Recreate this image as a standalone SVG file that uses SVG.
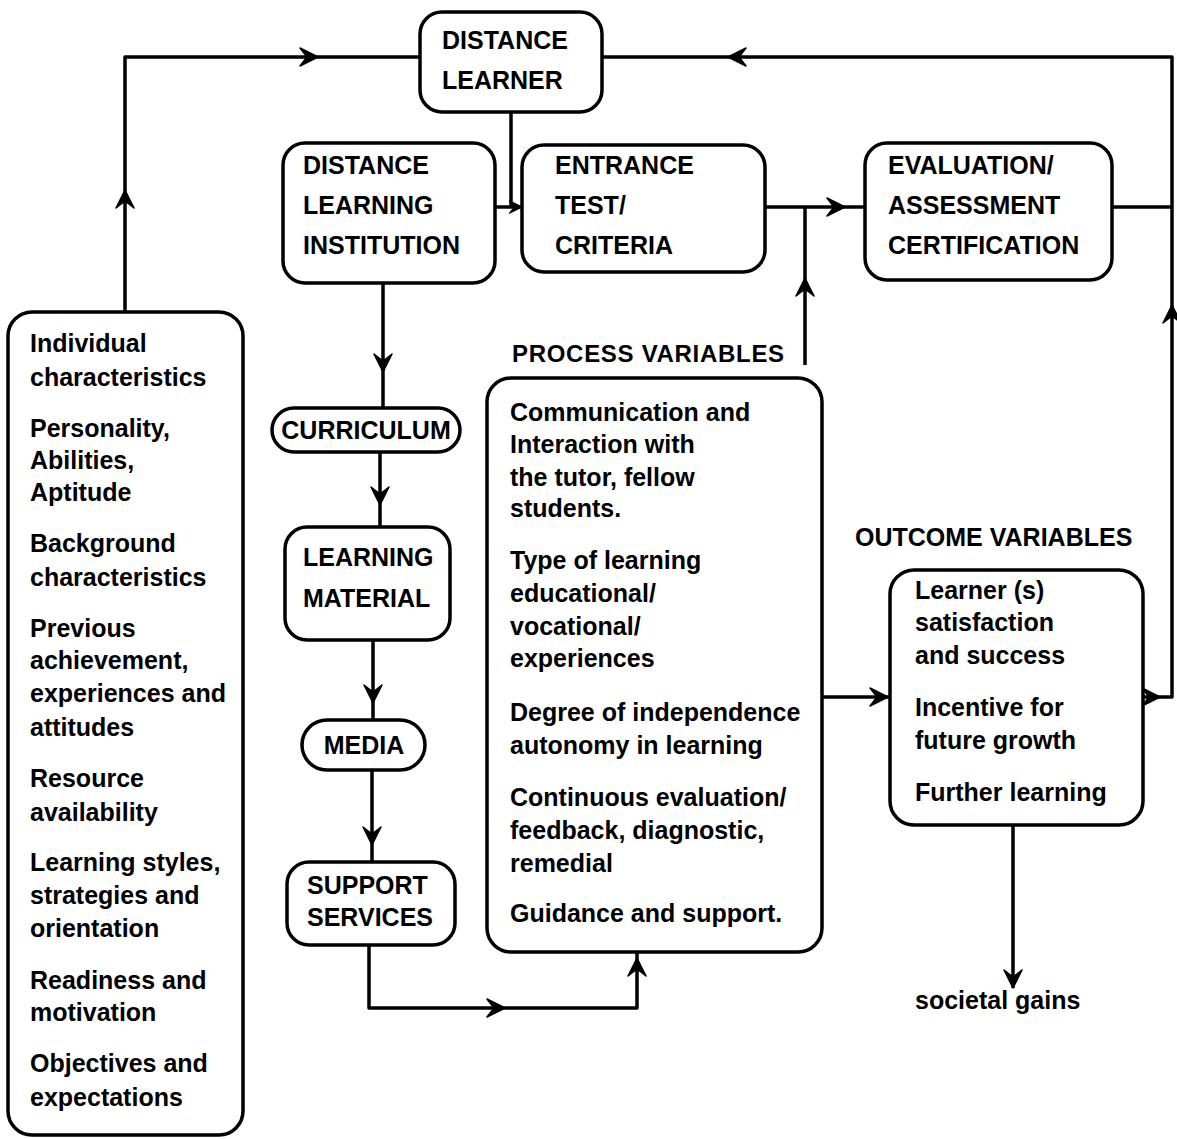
<svg xmlns="http://www.w3.org/2000/svg" xmlns:xlink="http://www.w3.org/1999/xlink" width="1177" height="1139" viewBox="0 0 1177 1139">
<style>
  .box { fill: #fff; stroke: #000; stroke-width: 3.5; }
  .ln { fill: none; stroke: #000; stroke-width: 3.5; stroke-linejoin: round; }
  text { font-family: "Liberation Sans", Arial, sans-serif; font-weight: bold; font-size: 25px; fill: #000; }
  .lbl { font-size: 24px; letter-spacing: 0.7px; }
</style>
<defs>
  <path id="ah" d="M0,0 L-18,-9 L-11,0 L-18,9 Z" fill="#000" stroke="#000" stroke-width="1.5" stroke-linejoin="round"/>
</defs>
<rect width="1177" height="1139" fill="#fff"/>

<g id="connectors">
  <path class="ln" d="M125,312 V57 H420"/>
  <use xlink:href="#ah" transform="translate(125,190) rotate(-90)"/>
  <use xlink:href="#ah" transform="translate(318,57)"/>
  <path class="ln" d="M1143,697 H1172 V57 H602"/>
  <use xlink:href="#ah" transform="translate(1160,697)"/>
  <use xlink:href="#ah" transform="translate(1172,305) rotate(-90)"/>
  <use xlink:href="#ah" transform="translate(728,57) rotate(180)"/>
  <path class="ln" d="M1112,207 H1172"/>
  <path class="ln" d="M511,112 V207"/>
  <path class="ln" d="M495,207 H522"/>
  <use xlink:href="#ah" transform="translate(522,207) scale(0.7)"/>
  <path class="ln" d="M765,207 H865"/>
  <use xlink:href="#ah" transform="translate(845,207)"/>
  <path class="ln" d="M805,365 V207"/>
  <use xlink:href="#ah" transform="translate(805,278) rotate(-90)"/>
  <path class="ln" d="M383,283 V408"/>
  <use xlink:href="#ah" transform="translate(383,372) rotate(90)"/>
  <path class="ln" d="M380,452 V527"/>
  <use xlink:href="#ah" transform="translate(380,505) rotate(90)"/>
  <path class="ln" d="M373,640 V720"/>
  <use xlink:href="#ah" transform="translate(373,703) rotate(90)"/>
  <path class="ln" d="M372,770 V862"/>
  <use xlink:href="#ah" transform="translate(372,845) rotate(90)"/>
  <path class="ln" d="M369,945 V1008 H637 V952"/>
  <use xlink:href="#ah" transform="translate(505,1008)"/>
  <use xlink:href="#ah" transform="translate(637,958) rotate(-90)"/>
  <path class="ln" d="M822,697 H890"/>
  <use xlink:href="#ah" transform="translate(888,697)"/>
  <path class="ln" d="M1013,825 V988"/>
  <use xlink:href="#ah" transform="translate(1013,988) rotate(90)"/>
</g>

<g id="distance-learner">
  <rect class="box" x="420" y="12" width="182" height="100" rx="22"/>
  <text x="442" y="49">DISTANCE</text>
  <text x="442" y="89">LEARNER</text>
</g>

<g id="distance-learning-institution">
  <rect class="box" x="283" y="143" width="212" height="140" rx="22"/>
  <text x="303" y="174">DISTANCE</text>
  <text x="303" y="214">LEARNING</text>
  <text x="303" y="254">INSTITUTION</text>
</g>

<g id="entrance-test">
  <rect class="box" x="522" y="145" width="243" height="127" rx="22"/>
  <text x="555" y="174">ENTRANCE</text>
  <text x="555" y="214">TEST/</text>
  <text x="555" y="254">CRITERIA</text>
</g>

<g id="evaluation">
  <rect class="box" x="865" y="143" width="247" height="137" rx="22"/>
  <text x="888" y="174">EVALUATION/</text>
  <text x="888" y="214">ASSESSMENT</text>
  <text x="888" y="254">CERTIFICATION</text>
</g>

<g id="individual-characteristics">
  <rect class="box" x="8" y="312" width="235" height="823" rx="24"/>
  <text x="30" y="352">Individual</text>
  <text x="30" y="386">characteristics</text>
  <text x="30" y="437">Personality,</text>
  <text x="30" y="469">Abilities,</text>
  <text x="30" y="501">Aptitude</text>
  <text x="30" y="552">Background</text>
  <text x="30" y="586">characteristics</text>
  <text x="30" y="637">Previous</text>
  <text x="30" y="669">achievement,</text>
  <text x="30" y="702">experiences and</text>
  <text x="30" y="736">attitudes</text>
  <text x="30" y="787">Resource</text>
  <text x="30" y="821">availability</text>
  <text x="30" y="871">Learning styles,</text>
  <text x="30" y="904">strategies and</text>
  <text x="30" y="937">orientation</text>
  <text x="30" y="989">Readiness and</text>
  <text x="30" y="1021">motivation</text>
  <text x="30" y="1072">Objectives and</text>
  <text x="30" y="1106">expectations</text>
</g>

<g id="curriculum">
  <rect class="box" x="272" y="408" width="188" height="44" rx="22"/>
  <text x="366" y="439" text-anchor="middle">CURRICULUM</text>
</g>

<g id="learning-material">
  <rect class="box" x="285" y="527" width="165" height="113" rx="22"/>
  <text x="303" y="566">LEARNING</text>
  <text x="303" y="607">MATERIAL</text>
</g>

<g id="media">
  <rect class="box" x="302" y="720" width="123" height="50" rx="25"/>
  <text x="364" y="754" text-anchor="middle">MEDIA</text>
</g>

<g id="support-services">
  <rect class="box" x="287" y="862" width="168" height="83" rx="22"/>
  <text x="307" y="894">SUPPORT</text>
  <text x="307" y="926">SERVICES</text>
</g>

<g id="process-variables">
  <text class="lbl" x="512" y="362">PROCESS VARIABLES</text>
  <rect class="box" x="487" y="378" width="335" height="574" rx="24"/>
  <text x="510" y="421">Communication and</text>
  <text x="510" y="453">Interaction with</text>
  <text x="510" y="486">the tutor, fellow</text>
  <text x="510" y="517">students.</text>
  <text x="510" y="569">Type of learning</text>
  <text x="510" y="602">educational/</text>
  <text x="510" y="635">vocational/</text>
  <text x="510" y="667">experiences</text>
  <text x="510" y="721">Degree of independence</text>
  <text x="510" y="754">autonomy in learning</text>
  <text x="510" y="806">Continuous evaluation/</text>
  <text x="510" y="839">feedback, diagnostic,</text>
  <text x="510" y="872">remedial</text>
  <text x="510" y="922">Guidance and support.</text>
</g>

<g id="outcome-variables">
  <text x="855" y="546">OUTCOME VARIABLES</text>
  <rect class="box" x="890" y="570" width="253" height="255" rx="24"/>
  <text x="915" y="599">Learner (s)</text>
  <text x="915" y="631">satisfaction</text>
  <text x="915" y="664">and success</text>
  <text x="915" y="716">Incentive for</text>
  <text x="915" y="749">future growth</text>
  <text x="915" y="801">Further learning</text>
</g>

<g id="societal-gains">
  <text x="915" y="1009">societal gains</text>
</g>
</svg>
